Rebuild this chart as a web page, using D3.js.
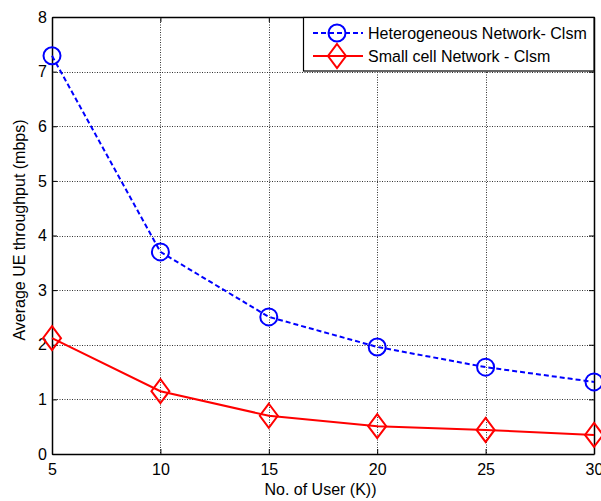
<!DOCTYPE html>
<html><head><meta charset="utf-8">
<script src="https://cdn.jsdelivr.net/npm/d3@7"></script>
<style>body{margin:0;background:#fff}svg{display:block}text{font-family:"Liberation Sans",Arial,sans-serif}</style>
</head><body>
<script>
const users = [5, 10, 15, 20, 25, 30];
const heteroValues = [7.29, 3.70, 2.51, 1.96, 1.59, 1.32];
const smallCellValues = [2.12, 1.15, 0.70, 0.51, 0.44, 0.35];
const xTicks = [5, 10, 15, 20, 25, 30];
const yTicks = [0, 1, 2, 3, 4, 5, 6, 7, 8];
const seriesNames = ["Heterogeneous Network- Clsm", "Small cell Network - Clsm"];

const W = 601, H = 501;
const m = {l: 52, t: 17, r: 594, b: 454};
const svg = d3.select("body").append("svg").attr("width", W).attr("height", H);
const x = d3.scaleLinear().domain([5, 30]).range([m.l, m.r]);
const y = d3.scaleLinear().domain([0, 8]).range([m.b, m.t]);

// grid
const grid = svg.append("g").attr("stroke", "#000").attr("stroke-width", 1).attr("stroke-dasharray", "1,1.5").attr("opacity", 0.8);
xTicks.slice(1, -1).forEach(v => grid.append("line").attr("x1", Math.round(x(v))+0.5).attr("x2", Math.round(x(v))+0.5).attr("y1", m.t).attr("y2", m.b));
yTicks.slice(1, -1).forEach(v => grid.append("line").attr("y1", Math.round(y(v))+0.5).attr("y2", Math.round(y(v))+0.5).attr("x1", m.l).attr("x2", m.r));

// axes
const fs = "16px";
const xAxis = d3.axisBottom(x).tickValues(xTicks).tickSizeInner(-5).tickSizeOuter(0).tickPadding(10);
svg.append("g").attr("transform", `translate(0,${m.b})`).call(xAxis);
const yAxis = d3.axisLeft(y).tickValues(yTicks).tickSizeInner(-5).tickSizeOuter(0).tickPadding(5);
svg.append("g").attr("transform", `translate(${m.l},0)`).call(yAxis);
const xTop = d3.axisTop(x).tickValues(xTicks).tickSizeInner(-5).tickSizeOuter(0).tickFormat("");
svg.append("g").attr("transform", `translate(0,${m.t})`).call(xTop);
const yRight = d3.axisRight(y).tickValues(yTicks).tickSizeInner(-5).tickSizeOuter(0).tickFormat("");
svg.append("g").attr("transform", `translate(${m.r},0)`).call(yRight);
svg.selectAll(".domain").attr("stroke", "#000").attr("stroke-width", 1.5);
svg.selectAll(".tick line").attr("stroke", "#000");
svg.selectAll(".tick text").attr("font-size", fs).attr("fill", "#000").style("font-family", '"Liberation Sans",Arial,sans-serif');

// labels
svg.append("text").attr("x", 320.5).attr("y", 495).attr("text-anchor", "middle").attr("font-size", fs).text("No. of User (K))");
svg.append("text").attr("transform", `translate(25,${230}) rotate(-90)`).attr("text-anchor", "middle").attr("font-size", fs).text("Average UE throughput (mbps)");

// series
const line = d3.line().x((d, i) => x(users[i])).y(d => y(d));
svg.append("path").datum(heteroValues).attr("d", line).attr("fill", "none").attr("stroke", "#0000ff").attr("stroke-width", 2).attr("stroke-dasharray", "5,3");
svg.append("path").datum(smallCellValues).attr("d", line).attr("fill", "none").attr("stroke", "#ff0000").attr("stroke-width", 2);

const diamond = (cx, cy) => `M${cx},${cy-12}L${cx+9},${cy}L${cx},${cy+12}L${cx-9},${cy}Z`;
svg.append("g").selectAll("circle").data(heteroValues).join("circle")
  .attr("cx", (d, i) => x(users[i])).attr("cy", d => y(d)).attr("r", 8.5)
  .attr("fill", "none").attr("stroke", "#0000ff").attr("stroke-width", 2);
svg.append("g").selectAll("path").data(smallCellValues).join("path")
  .attr("d", (d, i) => diamond(x(users[i]), y(d)))
  .attr("fill", "none").attr("stroke", "#ff0000").attr("stroke-width", 2);

// legend
const lg = svg.append("g");
lg.append("rect").attr("x", 303.5).attr("y", 17.5).attr("width", 290.5).attr("height", 53.5).attr("fill", "#fff").attr("stroke", "#000").attr("stroke-width", 1.2);
const rows = [33, 56];
lg.append("line").attr("x1", 313).attr("x2", 363).attr("y1", rows[0]).attr("y2", rows[0]).attr("stroke", "#0000ff").attr("stroke-width", 2).attr("stroke-dasharray", "5,3");
lg.append("circle").attr("cx", 337).attr("cy", rows[0]).attr("r", 8.5).attr("fill", "none").attr("stroke", "#0000ff").attr("stroke-width", 2);
lg.append("line").attr("x1", 313).attr("x2", 363).attr("y1", rows[1]).attr("y2", rows[1]).attr("stroke", "#ff0000").attr("stroke-width", 2);
lg.append("path").attr("d", diamond(337, rows[1])).attr("fill", "none").attr("stroke", "#ff0000").attr("stroke-width", 2);
seriesNames.forEach((s, i) => lg.append("text").attr("x", 368).attr("y", rows[i] + 6).attr("font-size", fs).text(s));
</script>
</body></html>
